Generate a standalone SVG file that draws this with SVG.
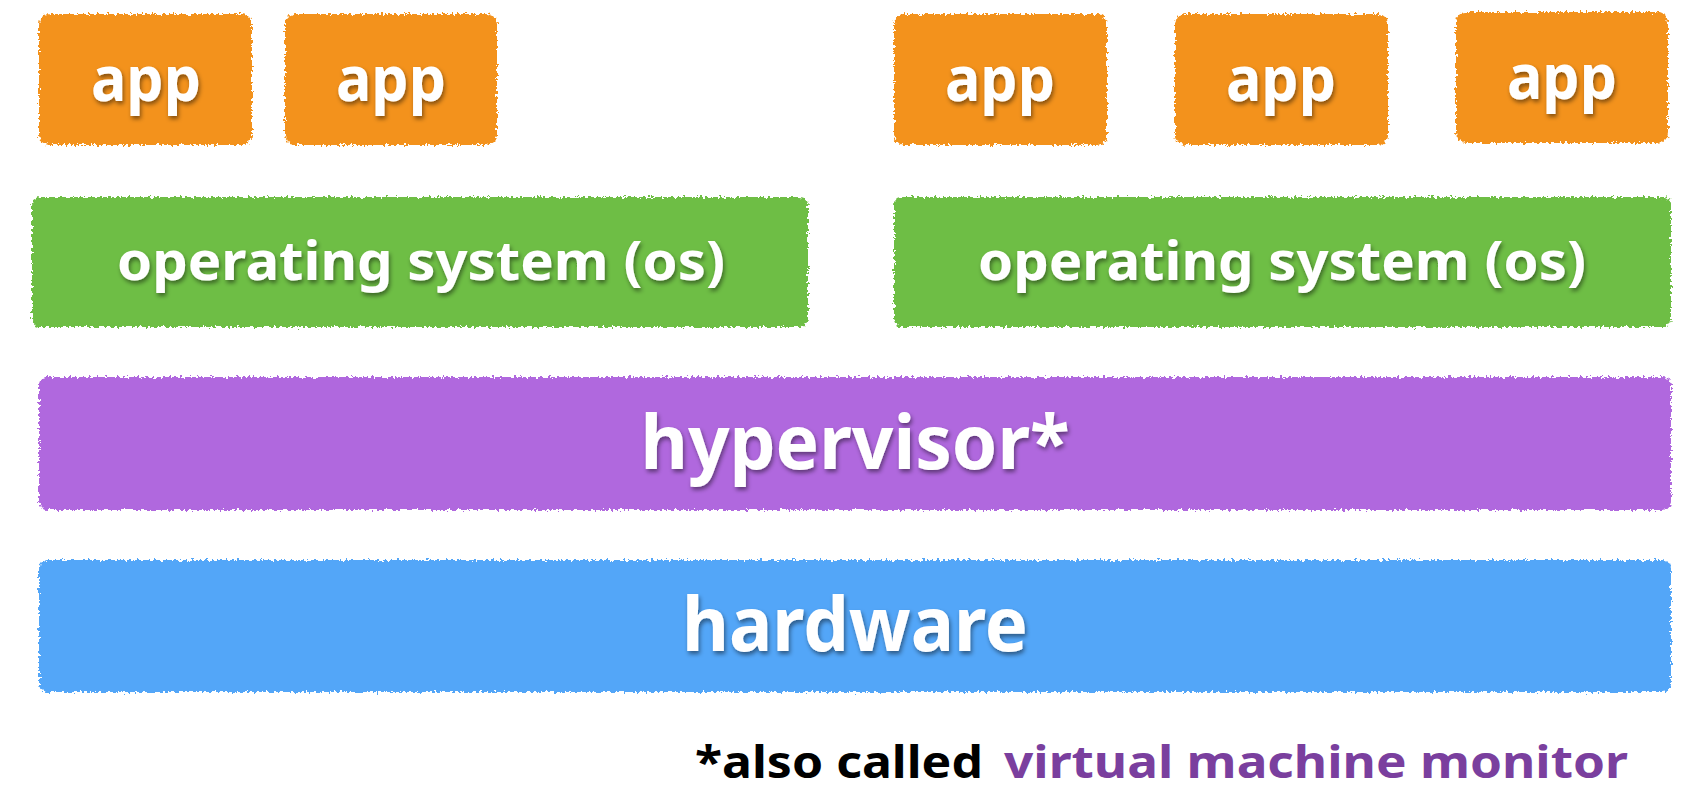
<svg xmlns="http://www.w3.org/2000/svg" width="1702" height="790" viewBox="0 0 1702 790">
  <defs>
    <!-- rough, brushed edges for the layer blocks -->
    <filter id="rough" x="-5%" y="-10%" width="110%" height="120%">
      <feTurbulence type="fractalNoise" baseFrequency="0.35" numOctaves="2" seed="7" result="noise"/>
      <feDisplacementMap in="SourceGraphic" in2="noise" scale="7" xChannelSelector="R" yChannelSelector="G"/>
    </filter>
    <!-- soft shadow under the white labels -->
    <filter id="shadow" x="-10%" y="-20%" width="120%" height="150%">
      <feDropShadow dx="1.5" dy="3" stdDeviation="2.2" flood-color="#000" flood-opacity="0.45"/>
    </filter>
  </defs>
  <style>
    .blk { filter: url(#rough); }
    .app { fill: #F3921C; }
    .os { fill: #6EBE44; }
    .hyp { fill: #B068DE; }
    .hw { fill: #52A6F8; }
    .lbl { fill: #FFFFFF; font-family: "Noto Sans", "DejaVu Sans", sans-serif; font-weight: 700; text-anchor: middle; filter: url(#shadow); }
    .note { font-family: "Noto Sans", "DejaVu Sans", sans-serif; font-weight: 700; font-size: 44px; }
  </style>
  <rect width="1702" height="790" fill="#FFFFFF"/>

  <!-- application row -->
  <g id="app1">
    <rect class="blk app" x="39" y="14" width="213" height="131" rx="10"/>
    <text class="lbl" x="146" y="101" font-size="62" textLength="110" lengthAdjust="spacingAndGlyphs">app</text>
  </g>
  <g id="app2">
    <rect class="blk app" x="285" y="14" width="212" height="131" rx="10"/>
    <text class="lbl" x="391" y="101" font-size="62" textLength="110" lengthAdjust="spacingAndGlyphs">app</text>
  </g>
  <g id="app3">
    <rect class="blk app" x="894" y="14" width="213" height="131" rx="10"/>
    <text class="lbl" x="1000" y="101" font-size="62" textLength="110" lengthAdjust="spacingAndGlyphs">app</text>
  </g>
  <g id="app4">
    <rect class="blk app" x="1175" y="14" width="213" height="131" rx="10"/>
    <text class="lbl" x="1281" y="101" font-size="62" textLength="110" lengthAdjust="spacingAndGlyphs">app</text>
  </g>
  <g id="app5">
    <rect class="blk app" x="1456" y="12" width="212" height="131" rx="10"/>
    <text class="lbl" x="1562" y="99" font-size="62" textLength="110" lengthAdjust="spacingAndGlyphs">app</text>
  </g>

  <!-- guest operating systems -->
  <g id="os1">
    <rect class="blk os" x="32" y="197" width="776" height="130" rx="8"/>
    <text class="lbl" x="421" y="280" font-size="54" textLength="608" lengthAdjust="spacingAndGlyphs">operating system (os)</text>
  </g>
  <g id="os2">
    <rect class="blk os" x="894" y="197" width="777" height="130" rx="8"/>
    <text class="lbl" x="1282" y="280" font-size="54" textLength="608" lengthAdjust="spacingAndGlyphs">operating system (os)</text>
  </g>

  <!-- hypervisor -->
  <g id="hypervisor">
    <rect class="blk hyp" x="39" y="377" width="1632" height="133" rx="8"/>
    <text class="lbl" x="855" y="469" font-size="76" textLength="429" lengthAdjust="spacingAndGlyphs">hypervisor*</text>
  </g>

  <!-- hardware -->
  <g id="hardware">
    <rect class="blk hw" x="39" y="560" width="1632" height="132" rx="8"/>
    <text class="lbl" x="855" y="651" font-size="76" textLength="346" lengthAdjust="spacingAndGlyphs">hardware</text>
  </g>

  <!-- footnote -->
  <g id="footnote">
    <text class="note" x="695" y="778" fill="#000000" textLength="288" lengthAdjust="spacingAndGlyphs">*also called</text>
    <text class="note" x="1004" y="778" fill="#7A3F9E" textLength="624" lengthAdjust="spacingAndGlyphs">virtual machine monitor</text>
  </g>

  <g id="connectors"></g>
</svg>
